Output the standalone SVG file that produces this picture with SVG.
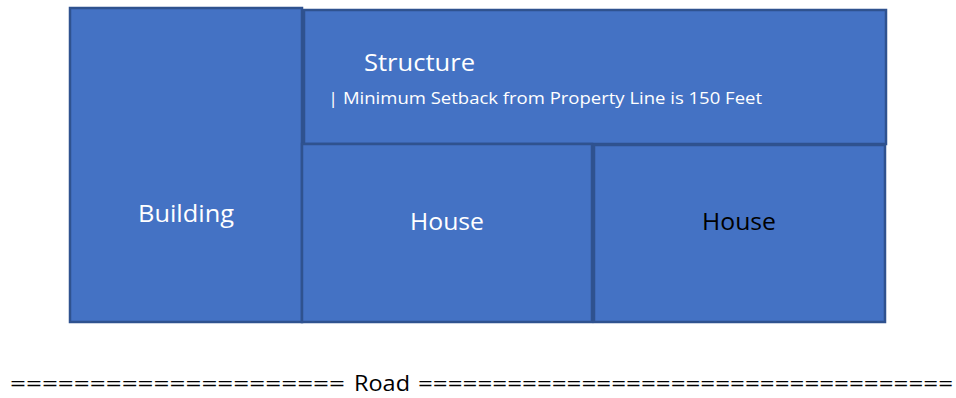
<svg xmlns="http://www.w3.org/2000/svg" width="956" height="398" viewBox="0 0 956 398">
<style>
.box{fill:#4472C4;stroke:#2F528F;stroke-width:2.5}
.t{font-family:"Open Sans","Noto Sans","Liberation Sans",sans-serif;fill:#ffffff}
.lbl{font-size:24px}
</style>
<rect width="956" height="398" fill="#ffffff"/>
<g id="building"><rect class="box" x="70" y="8" width="232" height="314"/><text class="t lbl" x="138" y="222" textLength="96" lengthAdjust="spacingAndGlyphs">Building</text></g>
<g id="structure"><rect class="box" x="304" y="10" width="582" height="134"/><text class="t" x="364" y="71" font-size="24" textLength="111" lengthAdjust="spacingAndGlyphs">Structure</text><text class="t" x="328" y="104" font-size="16.5" textLength="434" lengthAdjust="spacingAndGlyphs">| Minimum Setback from Property Line is 150 Feet</text></g>
<g id="house1"><rect class="box" x="302" y="144" width="290" height="178"/><text class="t lbl" x="410" y="230" textLength="74" lengthAdjust="spacingAndGlyphs">House</text></g>
<g id="house2"><rect class="box" x="594" y="145" width="291" height="177"/><text class="t lbl" x="702" y="230" textLength="74" lengthAdjust="spacingAndGlyphs" style="fill:#000000">House</text></g>
<g id="connectors"></g>
<g id="road"><text class="t" x="10" y="391" font-size="22" style="fill:#000000" textLength="335" lengthAdjust="spacingAndGlyphs">=====================</text><text class="t" x="354" y="391" font-size="22" style="fill:#000000" textLength="56" lengthAdjust="spacingAndGlyphs">Road</text><text class="t" x="418" y="391" font-size="22" style="fill:#000000" textLength="535" lengthAdjust="spacingAndGlyphs">====================================</text></g>
</svg>
